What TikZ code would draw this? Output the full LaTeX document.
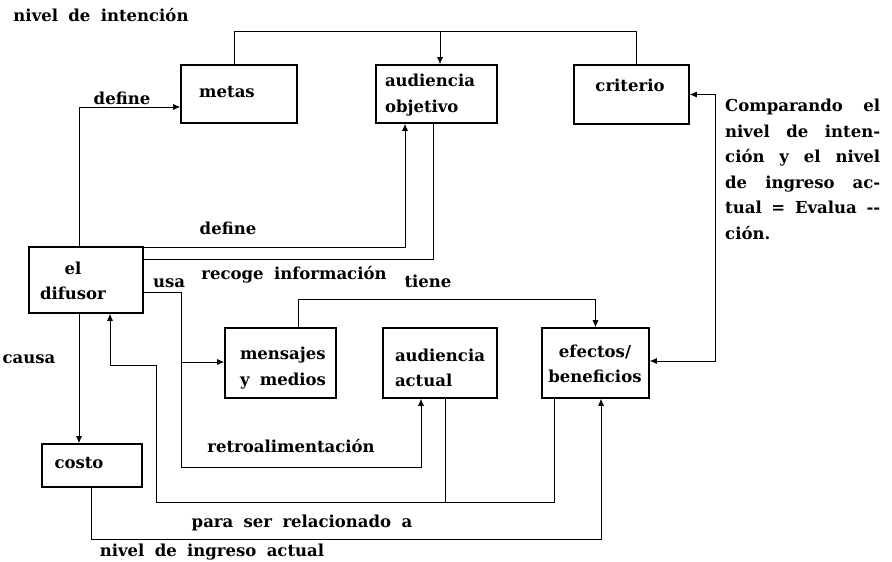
\documentclass[tikz,border=0pt]{standalone}
\usepackage{fontspec}
\setmainfont{DejaVu Serif}[WordSpace=1.8]
\usetikzlibrary{arrows.meta}
\tikzset{
  box/.style={draw, line width=1.6pt, inner sep=0pt},
  conn/.style={draw, line width=0.8pt},
  arr/.style={conn, -{Latex[length=7pt,width=6pt]}},
  arrb/.style={conn, {Latex[length=7pt,width=6pt]}-{Latex[length=7pt,width=6pt]}},
  lbl/.style={font=\bfseries\fontsize{16.5}{25.5}\selectfont, inner sep=0pt},
}
\newcommand{\jl}[1]{\makebox[155pt][s]{#1}}
\begin{document}
\begin{tikzpicture}[x=1pt,y=-1pt]
\useasboundingbox (0,0) rectangle (892,562);
% boxes
\node[box, minimum width=116pt, minimum height=58pt] (metas) at (239,94) {};
\node[box, minimum width=121pt, minimum height=58pt] (aobj) at (436.5,94) {};
\node[box, minimum width=115pt, minimum height=59pt] (criterio) at (631.5,94.5) {};
\node[box, minimum width=114pt, minimum height=66pt] (difusor) at (86,280) {};
\node[box, minimum width=111pt, minimum height=70pt] (mensajes) at (280.5,363) {};
\node[box, minimum width=114pt, minimum height=70pt] (aact) at (440,363) {};
\node[box, minimum width=107pt, minimum height=70pt] (efectos) at (595.5,363) {};
\node[box, minimum width=100pt, minimum height=43pt] (costo) at (92,465.5) {};
% box texts
\node[lbl] (tmetas) at (227,92) {metas};
\node[lbl, align=left] (taobj) at (430,95) {audiencia\\objetivo};
\node[lbl] (tcrit) at (630,85) {criterio};
\node[lbl, align=center] (tdif) at (73,281) {el\\difusor};
\node[lbl, align=left] (tmen) at (283,368) {mensajes\\y medios};
\node[lbl, align=left] (taact) at (440,368) {audiencia\\actual};
\node[lbl, align=center] (tefe) at (595,364) {efectos/\\beneficios};
\node[lbl] (tcosto) at (79,463) {costo};
% coordinates
\coordinate (tl) at (0,32);
\coordinate (aobjT) at ([xshift=3.5pt]aobj.north);
\coordinate (u1) at (181,362);
\coordinate (u2) at (181,467);
\coordinate (g1) at (156,502);
\coordinate (g2) at (156,365);
\coordinate (dfs) at ([xshift=-7pt]difusor.south);
% connectors
\draw[conn] ([xshift=-5pt]metas.north) -- ++(0,-33) -| ([xshift=4.5pt]criterio.north);
\draw[arr] (aobjT |- tl) -- (aobjT);
\draw[arr] ([xshift=-7pt]difusor.north) |- ([yshift=-13pt]metas.west);
\draw[arr] ([yshift=-1pt]difusor.north east) -| ([xshift=-31.5pt]aobj.south);
\draw[conn] ([xshift=-3.5pt]aobj.south) |- ([yshift=21pt]difusor.east);
\draw[arr] ([yshift=-12pt]difusor.east) -| (u1) -- (mensajes.west |- u1);
\draw[arr] (u1) -- (u2) -| ([xshift=-19pt]aact.south);
\draw[arr] ([xshift=17.5pt]mensajes.north) -- ++(0,-28) -| (efectos.north);
\draw[conn] ([xshift=5pt]aact.south) -- ++(0,104);
\draw[arr] ([xshift=-41.5pt]efectos.south) |- (g1) -- (g2) -| ([xshift=24pt]difusor.south);
\draw[arr] (dfs) -- (dfs |- costo.north);
\draw[arr] ([xshift=-1pt]costo.south) -- ++(0,52) -| ([xshift=5.5pt]efectos.south);
\draw[arrb] ([yshift=2pt]efectos.east) -- ++(66,0) |- (criterio.east);
% labels
\node[lbl] (l1) at (101,15) {nivel de intención};
\node[lbl] (l2) at (122,98) {define};
\node[lbl] (l3) at (228,228) {define};
\node[lbl] (l4) at (294,275) {recoge información};
\node[lbl] (l5) at (169,283) {usa};
\node[lbl] (l6) at (428,281) {tiene};
\node[lbl] (l7) at (29,359) {causa};
\node[lbl] (l8) at (291,446) {retroalimentación};
\node[lbl] (l9) at (302,523) {para ser relacionado a};
\node[lbl] (l10) at (212,552) {nivel de ingreso actual};
\node[lbl, anchor=north west, align=left] (l11) at (725,99) {\jl{Comparando el}\\\jl{nivel de inten-}\\\jl{ción y el nivel}\\\jl{de ingreso ac-}\\\jl{tual = Evalua -{}-}\\ción.};
\end{tikzpicture}
\end{document}
